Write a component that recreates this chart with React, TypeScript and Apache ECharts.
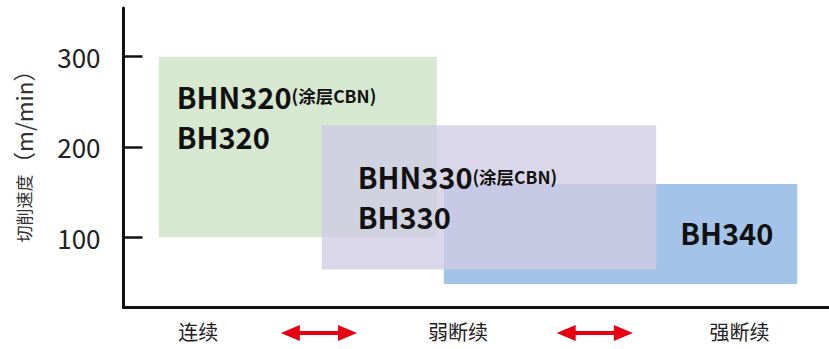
import React, { useEffect, useRef } from "react";
import * as echarts from "echarts";

// ---- data ----
const gradeMain = ["BHN320", "BHN330", "BH340"];
const gradeSecond = ["BH320", "BH330", ""];
const coatingNote = ["(涂层CBN)", "(涂层CBN)", ""];
const xStart = [5.0, 28.1, 45.4];
const xEnd = [44.4, 75.5, 95.5];
const speedLow = [100, 64, 48];
const speedHigh = [300, 224, 159];
const yTicks = [100, 200, 300];
const cutTypes = ["连续", "弱断续", "强断续"];
const cutTypePos = [10.6, 47.4, 87.3];
const arrowFrom = [22.3, 61.4];
const arrowTo = [33.1, 72.2];
const drawOrder = [0, 2, 1];
const yNameMain = "切削速度";
const yNameUnit = "（m/min）";

// ---- styles ----
const FONT = "'Noto Sans CJK SC', 'Noto Sans', sans-serif";
const Y_MIN = 22;
const Y_MAX = 354;
const boxStyles = [
  { fill: "#d6e8d0", opacity: 1, align: "left", dx: 18, dy: 19 },
  { fill: "#d0cce4", opacity: 0.78, align: "left", dx: 36, dy: 31 },
  { fill: "#a3c4e8", opacity: 1, align: "right", dx: -24, dy: 28.5 },
];

export default function App() {
  const ref = useRef<HTMLDivElement>(null);
  useEffect(() => {
    if (!ref.current) return;
    const chart = echarts.init(ref.current, undefined, { renderer: "svg" });
    const boxData = drawOrder.map((i) => [xStart[i], xEnd[i], speedLow[i], speedHigh[i], i]);
    const arrowData = arrowFrom.map((f, i) => [f, arrowTo[i]]);
    chart.setOption({
      animation: false,
      grid: { left: 123.5, right: 0, top: 8, bottom: 41.5 },
      xAxis: {
        type: "value",
        min: 0,
        max: 100,
        axisLine: { show: true, lineStyle: { color: "#111", width: 3 } },
        axisTick: { show: false },
        splitLine: { show: false },
        axisLabel: {
          customValues: cutTypePos,
          margin: 14,
          fontSize: 20,
          color: "#222",
          fontFamily: FONT,
          formatter: (v: number) => {
            let best = 0;
            cutTypePos.forEach((p, i) => {
              if (Math.abs(p - v) < Math.abs(cutTypePos[best] - v)) best = i;
            });
            return cutTypes[best];
          },
        },
      },
      yAxis: {
        type: "value",
        min: Y_MIN,
        max: Y_MAX,
        name: `{c|${yNameMain}}{u|${yNameUnit}}`,
        nameLocation: "middle",
        nameRotate: 90,
        nameGap: 89,
        nameTextStyle: {
          color: "#333",
          fontFamily: FONT,
          padding: [0, 0, 0, 14],
          rich: {
            c: { fontSize: 17, color: "#333", fontFamily: FONT },
            u: { fontSize: 22.5, color: "#333", fontFamily: FONT },
          },
        },
        axisLine: { show: true, lineStyle: { color: "#111", width: 3 } },
        axisTick: {
          show: true,
          inside: true,
          length: 19,
          customValues: yTicks,
          lineStyle: { color: "#111", width: 2.5 },
        },
        splitLine: { show: false },
        axisLabel: {
          customValues: yTicks,
          margin: 23,
          fontSize: 26,
          color: "#222",
          fontFamily: FONT,
        },
      },
      series: [
        {
          type: "custom",
          clip: false,
          data: boxData,
          renderItem: (params: any, api: any) => {
            const idx = api.value(4);
            const st = boxStyles[idx];
            const tl = api.coord([api.value(0), api.value(3)]);
            const br = api.coord([api.value(1), api.value(2)]);
            let text = `{a|${gradeMain[idx]}}`;
            if (coatingNote[idx]) text += `{b|${coatingNote[idx]}}`;
            if (gradeSecond[idx]) text += `\n{a|${gradeSecond[idx]}}`;
            const tx = st.align === "left" ? tl[0] + st.dx : br[0] + st.dx;
            return {
              type: "group",
              children: [
                {
                  type: "rect",
                  shape: { x: tl[0], y: tl[1], width: br[0] - tl[0], height: br[1] - tl[1] },
                  style: { fill: st.fill, opacity: st.opacity },
                },
                {
                  type: "text",
                  x: tx,
                  y: tl[1] + st.dy,
                  style: {
                    text,
                    align: st.align,
                    verticalAlign: "top",
                    rich: {
                      a: { fontSize: 29, fontWeight: "bold", fontFamily: FONT, fill: "#111", lineHeight: 40 },
                      b: { fontSize: 17.5, fontWeight: "bold", fontFamily: FONT, fill: "#111", lineHeight: 40 },
                    },
                  },
                },
              ],
            };
          },
        },
        {
          type: "custom",
          clip: false,
          data: arrowData,
          renderItem: (params: any, api: any) => {
            const a = api.coord([api.value(0), Y_MIN]);
            const b = api.coord([api.value(1), Y_MIN]);
            const y = a[1] + 25.5;
            const x1 = a[0];
            const x2 = b[0];
            const hl = 19;
            const hh = 8;
            const sh = 2;
            return {
              type: "polygon",
              shape: {
                points: [
                  [x1, y],
                  [x1 + hl, y - hh],
                  [x1 + hl, y - sh],
                  [x2 - hl, y - sh],
                  [x2 - hl, y - hh],
                  [x2, y],
                  [x2 - hl, y + hh],
                  [x2 - hl, y + sh],
                  [x1 + hl, y + sh],
                  [x1 + hl, y + hh],
                ],
              },
              style: { fill: "#e60012" },
            };
          },
        },
      ],
    });
    return () => chart.dispose();
  }, []);
  return (
    <div
      ref={ref}
      style={{ position: "fixed", left: 0, top: 0, width: 829, height: 349, background: "#fff" }}
    />
  );
}
